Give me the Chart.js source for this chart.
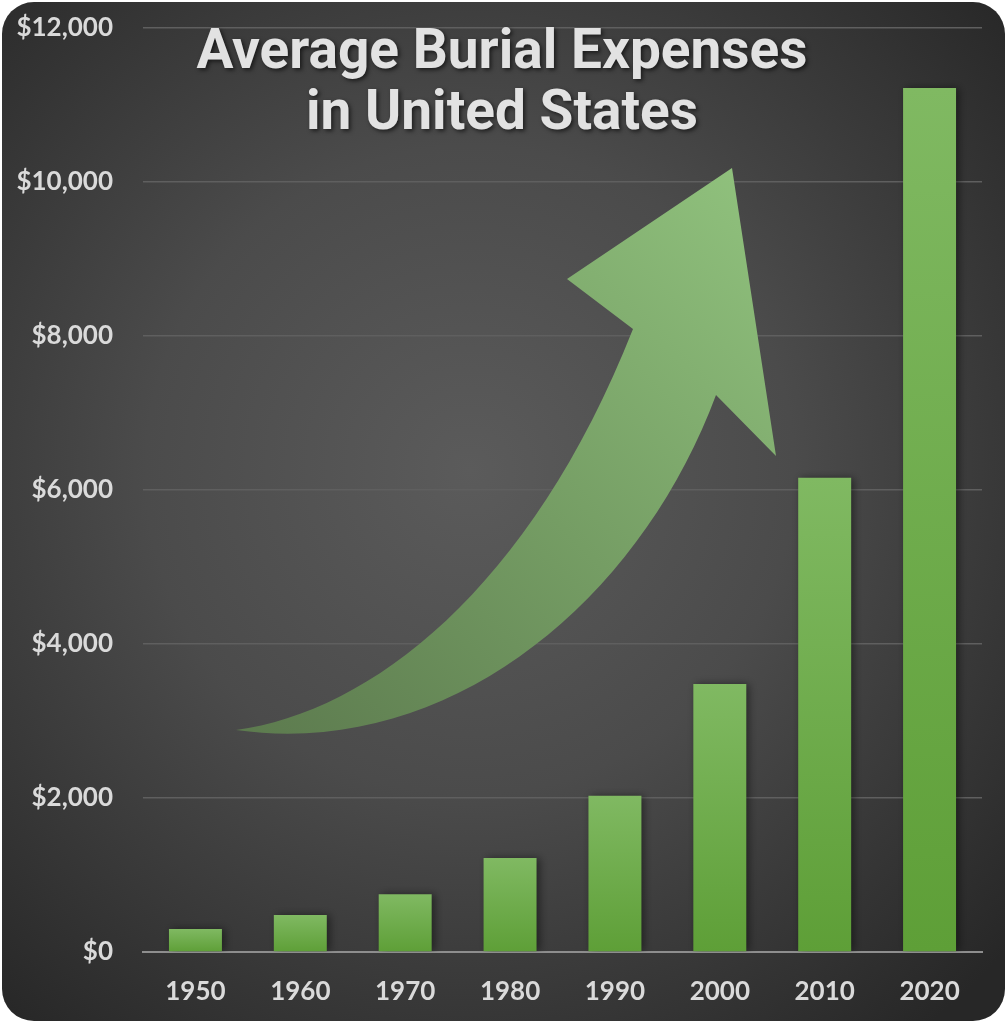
<!DOCTYPE html>
<html><head><meta charset="utf-8">
<script src="https://cdn.jsdelivr.net/npm/chart.js@4.4.1/dist/chart.umd.min.js"></script>
<style>html,body{margin:0;padding:0;background:#fff;}#wrap{width:1008px;height:1024px;position:relative;}</style>
</head><body><div id="wrap"><canvas id="c" width="1008" height="1024"></canvas></div>
<script>
const years = ['1950', '1960', '1970', '1980', '1990', '2000', '2010', '2020'];
const burialCost = [300, 480, 750, 1220, 2030, 3480, 6160, 11220];
const yMin = 0;
const yMax = 12000;
const yStep = 2000;
const titleLines = ['Average Burial Expenses', 'in United States'];

const LABEL_FONT = {family: 'Lato, "Open Sans", sans-serif', size: 26, weight: 'bold'};

const backgroundPlugin = {
  id: 'bg',
  beforeDraw(chart) {
    const ctx = chart.ctx, w = chart.width, h = chart.height;
    ctx.save();
    ctx.fillStyle = '#ffffff';
    ctx.fillRect(0, 0, w, h);
    const g = ctx.createRadialGradient(470, 470, 0, 470, 470, 720);
    g.addColorStop(0, '#5b5b5b');
    g.addColorStop(0.45, '#4b4b4b');
    g.addColorStop(1, '#272727');
    ctx.beginPath();
    ctx.roundRect(2, 2, w - 5, h - 5, 32);
    ctx.fillStyle = g;
    ctx.fill();
    ctx.restore();
  }
};

const arrowPlugin = {
  id: 'arrow',
  beforeDatasetsDraw(chart) {
    const ctx = chart.ctx;
    ctx.save();
    const g = ctx.createLinearGradient(240, 735, 760, 200);
    g.addColorStop(0, 'rgba(92,122,78,1)');
    g.addColorStop(0.5, 'rgba(117,157,100,1)');
    g.addColorStop(1, 'rgba(143,192,124,1)');
    ctx.beginPath();
    ctx.moveTo(236, 730);
    ctx.bezierCurveTo(370, 712, 530, 590, 633, 329);
    ctx.lineTo(567, 279);
    ctx.lineTo(732, 168);
    ctx.lineTo(776, 456);
    ctx.lineTo(716, 395);
    ctx.bezierCurveTo(640, 600, 450, 760, 236, 730);
    ctx.closePath();
    ctx.fillStyle = g;
    ctx.fill();
    ctx.restore();
  }
};

const shadowPlugin = {
  id: 'barShadow',
  beforeDatasetDraw(chart) {
    const ctx = chart.ctx;
    ctx.save();
    ctx.shadowColor = 'rgba(0,0,0,0.45)';
    ctx.shadowBlur = 8;
    ctx.shadowOffsetX = 3;
    ctx.shadowOffsetY = 0;
  },
  afterDatasetDraw(chart) {
    chart.ctx.restore();
  }
};

const titlePlugin = {
  id: 'overlayTitle',
  afterDraw(chart) {
    const ctx = chart.ctx;
    ctx.save();
    ctx.font = 'bold 55px Roboto, "Open Sans", sans-serif';
    ctx.textAlign = 'center';
    ctx.textBaseline = 'alphabetic';
    ctx.fillStyle = '#e2e2e2';
    ctx.shadowColor = 'rgba(0,0,0,0.6)';
    ctx.shadowBlur = 4;
    ctx.shadowOffsetX = 2;
    ctx.shadowOffsetY = 2;
    ctx.fillText(titleLines[0], 502, 68);
    ctx.fillText(titleLines[1], 502, 129);
    ctx.restore();
  }
};

new Chart(document.getElementById('c'), {
  type: 'bar',
  data: {
    labels: years,
    datasets: [{
      label: 'Average burial cost',
      data: burialCost,
      barPercentage: 0.505,
      categoryPercentage: 1,
      borderWidth: 0,
      backgroundColor(c) {
        const chart = c.chart;
        const {ctx, chartArea, scales} = chart;
        if (!chartArea || c.type !== 'data' || !scales.y) return '#6fae4a';
        const top = scales.y.getPixelForValue(c.raw);
        const bottom = scales.y.getPixelForValue(0);
        const g = ctx.createLinearGradient(0, top, 0, bottom);
        g.addColorStop(0, '#80b962');
        g.addColorStop(1, '#5e9f37');
        return g;
      }
    }]
  },
  options: {
    responsive: false,
    animation: false,
    devicePixelRatio: 1,
    layout: {padding: {top: 28, right: 26, left: 0, bottom: 0}},
    plugins: {legend: {display: false}, title: {display: false}, tooltip: {enabled: false}},
    scales: {
      x: {
        grid: {display: false, drawTicks: false},
        border: {display: true, color: '#8e8e8e', width: 2},
        ticks: {color: '#dadada', font: LABEL_FONT, padding: 24},
        afterFit(s) { s.height = 72; }
      },
      y: {
        min: yMin, max: yMax,
        grid: {color: '#5f5f5f', lineWidth: 1.5, drawTicks: false},
        border: {display: false},
        ticks: {
          stepSize: yStep,
          color: '#dadada', font: LABEL_FONT, padding: 30,
          callback: v => '$' + Number(v).toLocaleString('en-US')
        },
        afterFit(s) { s.width = 143; s.paddingTop = 0; s.paddingBottom = 0; }
      }
    }
  },
  plugins: [backgroundPlugin, arrowPlugin, shadowPlugin, titlePlugin]
});
</script>
</body></html>
